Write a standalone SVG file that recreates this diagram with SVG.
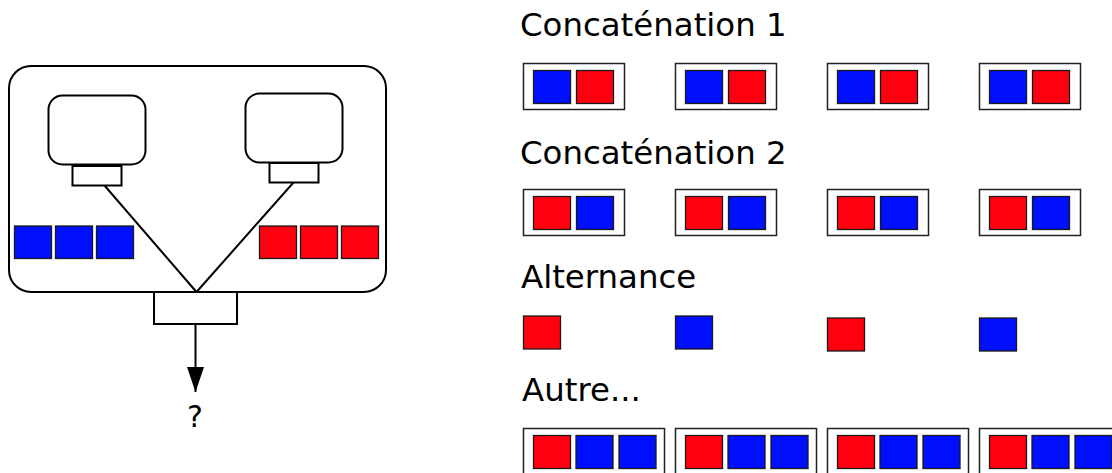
<svg xmlns="http://www.w3.org/2000/svg" width="1112" height="473" viewBox="0 0 1112 473">
  <style>
    .frame { fill: #ffffff; stroke: #000000; stroke-width: 2; }
    .wire { fill: none; stroke: #000000; stroke-width: 2; }
    .box { fill: #ffffff; stroke: #222222; stroke-width: 1.5; }
    .r { fill: #ff0010; stroke: #1a1a1a; stroke-width: 1.3; }
    .b { fill: #0010ff; stroke: #1a1a1a; stroke-width: 1.3; }
    .lbl { font-family: "DejaVu Sans", "Liberation Sans", sans-serif; font-size: 32.4px; fill: #000000; }
    .q { font-family: "DejaVu Sans", "Liberation Sans", sans-serif; font-size: 30px; fill: #000000; }
  </style>
  <defs>
    <marker id="arrow" markerUnits="userSpaceOnUse" markerWidth="26" markerHeight="18" refX="25" refY="9" orient="auto" viewBox="0 0 26 18">
      <path d="M0,0.5 L25,9 L0,17.5 Z" fill="#000000"/>
    </marker>
    <!-- two-square pair inside a frame -->
    <g id="pairBR">
      <rect class="box" x="0.5" y="0.5" width="101" height="46"/>
      <rect class="b" x="10.5" y="7.5" width="37" height="33"/>
      <rect class="r" x="53.5" y="7.5" width="37" height="33"/>
    </g>
    <g id="pairRB">
      <rect class="box" x="0.5" y="0.5" width="101" height="46"/>
      <rect class="r" x="10.5" y="7.5" width="37" height="33"/>
      <rect class="b" x="53.5" y="7.5" width="37" height="33"/>
    </g>
    <!-- three-square group inside a frame -->
    <g id="tripleRBB">
      <rect class="box" x="0.5" y="0.5" width="141" height="48"/>
      <rect class="r" x="10.5" y="7.5" width="37" height="33"/>
      <rect class="b" x="53" y="7.5" width="37" height="33"/>
      <rect class="b" x="96" y="7.5" width="37" height="33"/>
    </g>
  </defs>

  <!-- left: the mixing device -->
  <g id="device">
    <rect class="frame" x="9" y="66" width="377" height="226" rx="22" ry="22"/>
  </g>
  <g id="source-left">
    <rect class="frame" x="48.5" y="95.5" width="97" height="69" rx="14" ry="14"/>
    <rect class="frame" x="72.5" y="166" width="49" height="19.5"/>
  </g>
  <g id="source-right">
    <rect class="frame" x="245.5" y="93.5" width="97" height="69" rx="14" ry="14"/>
    <rect class="frame" x="269.5" y="163" width="49" height="19.5"/>
  </g>
  <g id="queue-blue">
    <rect class="b" x="14.5" y="226" width="37" height="32.5"/>
    <rect class="b" x="55.5" y="226" width="37" height="32.5"/>
    <rect class="b" x="96.5" y="226" width="37" height="32.5"/>
  </g>
  <g id="queue-red">
    <rect class="r" x="259.5" y="226" width="37" height="32.5"/>
    <rect class="r" x="300.5" y="226" width="37" height="32.5"/>
    <rect class="r" x="341.5" y="226" width="37" height="32.5"/>
  </g>
  <g id="output">
    <rect class="frame" x="154" y="292" width="83" height="32"/>
  </g>
  <g id="result">
    <text class="q" x="195" y="427" text-anchor="middle">?</text>
  </g>

  <g id="connectors">
    <line class="wire" x1="104.5" y1="185.5" x2="196.5" y2="292"/>
    <line class="wire" x1="293.5" y1="182.5" x2="196.5" y2="292"/>
    <line class="wire" x1="195.5" y1="324" x2="195.5" y2="392" marker-end="url(#arrow)"/>
  </g>

  <!-- right: possible output orderings -->
  <g id="concat1">
    <text class="lbl" x="520" y="36">Concaténation 1</text>
    <use href="#pairBR" x="523" y="63"/>
    <use href="#pairBR" x="675" y="63"/>
    <use href="#pairBR" x="827" y="63"/>
    <use href="#pairBR" x="979" y="63"/>
  </g>
  <g id="concat2">
    <text class="lbl" x="520" y="164">Concaténation 2</text>
    <use href="#pairRB" x="523" y="189"/>
    <use href="#pairRB" x="675" y="189"/>
    <use href="#pairRB" x="827" y="189"/>
    <use href="#pairRB" x="979" y="189"/>
  </g>
  <g id="alternance">
    <text class="lbl" x="521" y="288">Alternance</text>
    <rect class="r" x="523.5" y="316" width="37" height="33"/>
    <rect class="b" x="675.5" y="316" width="37" height="33"/>
    <rect class="r" x="827.5" y="318" width="37" height="33"/>
    <rect class="b" x="979.5" y="318" width="37" height="33"/>
  </g>
  <g id="autre">
    <text class="lbl" x="522" y="401">Autre...</text>
    <use href="#tripleRBB" x="523" y="428"/>
    <use href="#tripleRBB" x="675" y="428"/>
    <use href="#tripleRBB" x="827" y="428"/>
    <use href="#tripleRBB" x="979" y="428"/>
  </g>
</svg>
